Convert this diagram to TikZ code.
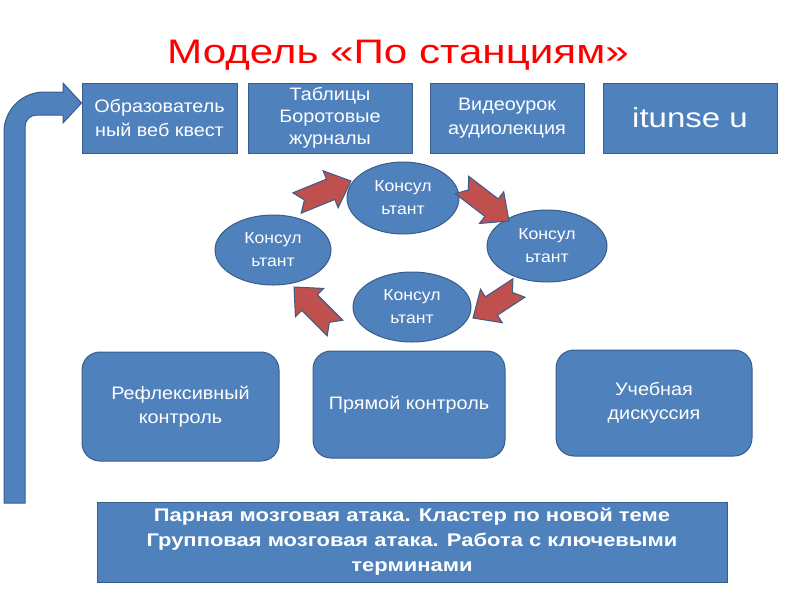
\documentclass[tikz,border=0pt]{standalone}
\usepackage{fontspec}
\setmainfont{Liberation Sans}
\newfontfamily\wideA[FakeStretch=1.1]{Liberation Sans}
\newfontfamily\wideB[FakeStretch=1.2]{Liberation Sans}
\newfontfamily\wideT[FakeStretch=1.24]{Liberation Sans}
\usetikzlibrary{shapes.geometric,calc}
\definecolor{boxblue}{RGB}{79,129,189}
\definecolor{boxline}{RGB}{56,93,138}
\definecolor{arrred}{RGB}{192,80,77}
\definecolor{titlered}{RGB}{255,0,0}
\tikzset{
  topbox/.style={draw=boxline, line width=1pt, fill=boxblue, text=white, align=center,
    inner sep=0pt, font=\wideA\fontsize{18}{24}\selectfont},
  consult/.style={ellipse, draw=boxline, line width=1pt, fill=boxblue, text=white, align=center,
    inner sep=0pt, font=\wideA\fontsize{16}{23}\selectfont},
  roundbox/.style={draw=boxline, line width=1pt, fill=boxblue, text=white, align=center,
    rounded corners=18pt, inner sep=0pt, font=\wideA\fontsize{18}{24}\selectfont},
  blockarr/.style={draw=boxline, line width=1pt, fill=arrred, line join=miter},
  bigarr/.style={draw=boxline, line width=1pt, fill=boxblue, line join=miter}
}
\newcommand\nbarrow[2]{%
  \coordinate (hb) at ($(#2)!22pt!(#1)$);
  \draw[blockarr] ($(#1)!8pt!(#2)$) -- ($(#1)!11pt!90:(#2)$) -- ($(hb)!11pt!90:(#2)$)
    -- ($(hb)!20pt!90:(#2)$) -- (#2) -- ($(hb)!20pt!-90:(#2)$) -- ($(hb)!11pt!-90:(#2)$)
    -- ($(#1)!11pt!-90:(#2)$) -- cycle;
}
\begin{document}
\begin{tikzpicture}[x=1pt,y=-1pt]
\useasboundingbox (0,0) rectangle (800,600);
% title
\node[text=titlered, font=\wideT\fontsize{34}{40}\selectfont, anchor=base] (title) at (398,63) {Модель «По станциям»};
% top boxes
\node[topbox, minimum width=155pt, minimum height=70pt] (b1) at (159.5,118) {Образователь\\ный веб квест};
\node[topbox, minimum width=164pt, minimum height=70pt, font=\wideA\fontsize{18}{22}\selectfont] (b2) at (330,118) {Таблицы\\Боротовые\\журналы};
\node[topbox, minimum width=154pt, minimum height=70pt] (b3) at (507,118) {Видеоурок\\аудиолекция};
\node[topbox, minimum width=174pt, minimum height=70pt, font=\wideB\fontsize{27.5}{32}\selectfont] (b4) at (690,118) {\raisebox{-3pt}{itunsе u}};
% consultants
\node[consult, minimum width=112pt, minimum height=72pt] (ct) at (403,198) {Консул\\ьтант};
\node[consult, minimum width=116pt, minimum height=70pt] (cl) at (273,250) {Консул\\ьтант};
\node[consult, minimum width=120pt, minimum height=72pt] (cr) at (547,246) {Консул\\ьтант};
\node[consult, minimum width=118pt, minimum height=70pt] (cb) at (412,307) {Консул\\ьтант};
% arrow end points
\coordinate (t1) at (297,203); \coordinate (p1) at (351,181);
\coordinate (t2) at (462,185); \coordinate (p2) at (509,221);
\coordinate (t3) at (519,288); \coordinate (p3) at (473,318);
\coordinate (t4) at (335,328); \coordinate (p4) at (294,287);
\nbarrow{t1}{p1}
\nbarrow{t2}{p2}
\nbarrow{t3}{p3}
\nbarrow{t4}{p4}
% bottom rounded boxes
\node[roundbox, minimum width=197pt, minimum height=109pt] (r1) at (180.5,406.5) {Рефлексивный\\контроль};
\node[roundbox, minimum width=192pt, minimum height=107pt] (r2) at (409,404.5) {Прямой контроль};
\node[roundbox, minimum width=196pt, minimum height=106pt] (r3) at (654,403) {Учебная\\дискуссия};
% bottom box
\node[draw=boxline, line width=1pt, fill=boxblue, text=white, align=center, inner sep=0pt,
  minimum width=630pt, minimum height=80pt, font=\wideB\bfseries\fontsize{18.3}{25}\selectfont] (bb) at (412,542)
  {Парная мозговая атака. Кластер по новой теме\\Групповая мозговая атака. Работа с ключевыми\\терминами};
% big curved arrow
\coordinate (tip) at ($(b1.west)+(0,-15)$);
\draw[bigarr] (4,503) -- (4,132) .. controls (4,110) and (22,92) .. (44,92) -- (63,92) -- (63,83)
  -- (tip) -- (63,123) -- (63,115) -- (37,115) .. controls (30,115) and (25,120) .. (25,127) -- (25,503) -- cycle;
\end{tikzpicture}
\end{document}
